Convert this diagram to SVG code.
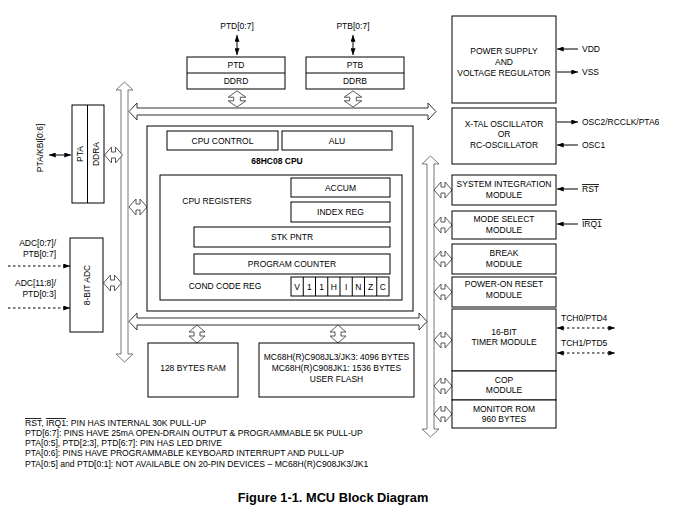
<svg xmlns="http://www.w3.org/2000/svg" width="676" height="517" viewBox="0 0 676 517">
<style>
.b{fill:#fff;stroke:#000;stroke-width:1}
.t{font-family:"Liberation Sans",Arial,sans-serif;font-size:8.5px;fill:#000;text-anchor:middle;dominant-baseline:central}
.tl{font-family:"Liberation Sans",Arial,sans-serif;font-size:8.5px;fill:#000;dominant-baseline:central}
.n{font-family:"Liberation Sans",Arial,sans-serif;font-size:8.6px;fill:#000}
.bold{font-weight:bold}
.bush{fill:#fff;stroke:#333;stroke-width:1}
.busv{fill:#fff;stroke:#777;stroke-width:1}
.ha{fill:#fff;stroke:#444;stroke-width:0.9}
.ln{stroke:#000;stroke-width:1;fill:none}
.dl{stroke:#000;stroke-width:1;fill:none;stroke-dasharray:2.5,2.5}
.ov{text-decoration:overline}
</style>
<defs>
<marker id="ah" viewBox="0 0 8 6" refX="8" refY="3" markerWidth="7" markerHeight="5" orient="auto-start-reverse" markerUnits="userSpaceOnUse">
<path d="M0,0 L8,3 L0,6 Z" fill="#000"/>
</marker>
<path id="dh" d="M-9,0 L-2,-8 L-2,-3 L2,-3 L2,-8 L9,0 L2,8 L2,3 L-2,3 L-2,8 Z"/>
</defs>

<g id="connectors">
<!-- buses -->
<polygon class="busv" points="124.5,82 133,90 128,90 128,354 133,354 124.5,362 116,354 121,354 121,90 116,90"/>
<polygon class="busv" points="430.5,156 439,164 434,164 434,429 439,429 430.5,437 422,429 427,429 427,164 422,164"/>
<polygon class="bush" points="129,111.5 137,103 137,108 428,108 428,103 436,111.5 428,120 428,115 137,115 137,120"/>
<polygon class="bush" points="129,321.5 137,313 137,318 419,318 419,313 427,321.5 419,330 419,325 137,325 137,330"/>
<!-- hollow bus connectors -->
<use href="#dh" class="ha" transform="translate(237,99) rotate(90) scale(0.9,1.1)"/>
<use href="#dh" class="ha" transform="translate(353,99) rotate(90) scale(0.9,1.1)"/>
<use href="#dh" class="ha" transform="translate(113.5,155)"/>
<use href="#dh" class="ha" transform="translate(138,207)"/>
<use href="#dh" class="ha" transform="translate(112.5,283)"/>
<use href="#dh" class="ha" transform="translate(197,334) rotate(90)"/>
<use href="#dh" class="ha" transform="translate(338,334) rotate(90)"/>
<use href="#dh" class="ha" transform="translate(443,190)"/>
<use href="#dh" class="ha" transform="translate(443,225)"/>
<use href="#dh" class="ha" transform="translate(443,259)"/>
<use href="#dh" class="ha" transform="translate(443,292)"/>
<use href="#dh" class="ha" transform="translate(443,340)"/>
<use href="#dh" class="ha" transform="translate(443,386)"/>
<use href="#dh" class="ha" transform="translate(443,414)"/>
<!-- pin arrows -->
<line class="ln" x1="237" y1="35" x2="237" y2="55" marker-start="url(#ah)" marker-end="url(#ah)"/>
<line class="ln" x1="353" y1="35" x2="353" y2="55" marker-start="url(#ah)" marker-end="url(#ah)"/>
<line class="ln" x1="49" y1="155" x2="71" y2="155" marker-start="url(#ah)" marker-end="url(#ah)"/>
<line class="dl" x1="8" y1="266" x2="70" y2="266" marker-end="url(#ah)"/>
<line class="dl" x1="8" y1="308" x2="70" y2="308" marker-end="url(#ah)"/>
<line class="ln" x1="578" y1="49" x2="557" y2="49" marker-end="url(#ah)"/>
<line class="ln" x1="557" y1="72" x2="578" y2="72" marker-end="url(#ah)"/>
<line class="ln" x1="557" y1="122" x2="578" y2="122" marker-end="url(#ah)"/>
<line class="ln" x1="578" y1="145" x2="557" y2="145" marker-end="url(#ah)"/>
<line class="ln" x1="578" y1="189" x2="557" y2="189" marker-end="url(#ah)"/>
<line class="ln" x1="578" y1="224" x2="557" y2="224" marker-end="url(#ah)"/>
<line class="dl" x1="557" y1="328" x2="615" y2="328" marker-start="url(#ah)" marker-end="url(#ah)"/>
<line class="dl" x1="557" y1="353" x2="615" y2="353" marker-start="url(#ah)" marker-end="url(#ah)"/>
</g>

<g id="ptd">
<rect class="b" x="187" y="57" width="98" height="32"/>
<line class="ln" x1="187" y1="73" x2="285" y2="73"/>
<text class="t" x="236" y="65">PTD</text>
<text class="t" x="236" y="81">DDRD</text>
<text class="t" x="237" y="26">PTD[0:7]</text>
</g>
<g id="ptb">
<rect class="b" x="306" y="57" width="98" height="32"/>
<line class="ln" x1="306" y1="73" x2="404" y2="73"/>
<text class="t" x="355" y="65">PTB</text>
<text class="t" x="355" y="81">DDRB</text>
<text class="t" x="353" y="26">PTB[0:7]</text>
</g>

<g id="pta">
<rect class="b" x="72" y="105" width="32" height="98"/>
<line class="ln" x1="87.5" y1="105" x2="87.5" y2="203"/>
<text class="t" transform="translate(80,154) rotate(-90)">PTA</text>
<text class="t" transform="translate(96,154) rotate(-90)">DDRA</text>
<text class="t" transform="translate(40,148) rotate(-90)">PTA/KBI[0:6]</text>
</g>

<g id="adc">
<rect class="b" x="70" y="238" width="33" height="94"/>
<text class="t" transform="translate(86.5,285) rotate(-90)">8-BIT ADC</text>
<text class="tl" x="56" y="243" style="text-anchor:end">ADC[0:7]/</text>
<text class="tl" x="56" y="254" style="text-anchor:end">PTB[0:7]</text>
<text class="tl" x="56" y="283" style="text-anchor:end">ADC[11:8]/</text>
<text class="tl" x="56" y="294" style="text-anchor:end">PTD[0:3]</text>
</g>

<g id="cpu">
<rect class="b" x="147" y="126" width="266" height="185"/>
<rect class="b" x="167" y="131" width="111" height="19"/>
<text class="t" x="222.5" y="140.5">CPU CONTROL</text>
<rect class="b" x="282" y="131" width="110" height="19"/>
<text class="t" x="337" y="140.5">ALU</text>
<text class="t bold" x="277" y="161">68HC08 CPU</text>
<rect class="b" x="160" y="175" width="242" height="125"/>
<text class="t" x="217" y="201">CPU REGISTERS</text>
<rect class="b" x="291" y="178" width="99" height="19"/>
<text class="t" x="340.5" y="187.5">ACCUM</text>
<rect class="b" x="291" y="202" width="99" height="20"/>
<text class="t" x="340.5" y="212">INDEX REG</text>
<rect class="b" x="194" y="227" width="196" height="20"/>
<text class="t" x="292" y="237">STK PNTR</text>
<rect class="b" x="194" y="254" width="196" height="20"/>
<text class="t" x="292" y="264">PROGRAM COUNTER</text>
<text class="t" x="225" y="285.5">COND CODE REG</text>
<rect class="b" x="291" y="277" width="98" height="19"/>
<g class="ln">
<line x1="303.25" y1="277" x2="303.25" y2="296"/>
<line x1="315.5" y1="277" x2="315.5" y2="296"/>
<line x1="327.75" y1="277" x2="327.75" y2="296"/>
<line x1="340" y1="277" x2="340" y2="296"/>
<line x1="352.25" y1="277" x2="352.25" y2="296"/>
<line x1="364.5" y1="277" x2="364.5" y2="296"/>
<line x1="376.75" y1="277" x2="376.75" y2="296"/>
</g>
<text class="t" x="297.1" y="286.5">V</text>
<text class="t" x="309.4" y="286.5">1</text>
<text class="t" x="321.6" y="286.5">1</text>
<text class="t" x="333.9" y="286.5">H</text>
<text class="t" x="346.1" y="286.5">I</text>
<text class="t" x="358.4" y="286.5">N</text>
<text class="t" x="370.6" y="286.5">Z</text>
<text class="t" x="382.9" y="286.5">C</text>
</g>

<g id="ram">
<rect class="b" x="148" y="343" width="90" height="54"/>
<text class="t" x="193" y="368">128 BYTES RAM</text>
</g>
<g id="flash">
<rect class="b" x="259" y="343" width="155" height="54"/>
<text class="t" x="336.5" y="357">MC68H(R)C908JL3/JK3: 4096 BYTES</text>
<text class="t" x="336.5" y="368">MC68H(R)C908JK1: 1536 BYTES</text>
<text class="t" x="336.5" y="379">USER FLASH</text>
</g>

<g id="power">
<rect class="b" x="452" y="16" width="104" height="87"/>
<text class="t" x="504" y="51">POWER SUPPLY</text>
<text class="t" x="504" y="62">AND</text>
<text class="t" x="504" y="73">VOLTAGE REGULATOR</text>
<text class="tl" x="582" y="49">VDD</text>
<text class="tl" x="582" y="72">VSS</text>
</g>
<g id="osc">
<rect class="b" x="452" y="108" width="104" height="56"/>
<text class="t" x="504" y="124">X-TAL OSCILLATOR</text>
<text class="t" x="504" y="134">OR</text>
<text class="t" x="504" y="145">RC-OSCILLATOR</text>
<text class="tl" x="582" y="122">OSC2/RCCLK/PTA6</text>
<text class="tl" x="582" y="145">OSC1</text>
</g>
<g id="sim">
<rect class="b" x="452" y="175" width="104" height="30"/>
<text class="t" x="504" y="184">SYSTEM INTEGRATION</text>
<text class="t" x="504" y="195">MODULE</text>
<text class="tl" x="582" y="189"><tspan class="ov">RST</tspan></text>
</g>
<g id="mode">
<rect class="b" x="452" y="211" width="104" height="28"/>
<text class="t" x="504" y="219">MODE SELECT</text>
<text class="t" x="504" y="230">MODULE</text>
<text class="tl" x="582" y="224"><tspan class="ov">IRQ1</tspan></text>
</g>
<g id="break">
<rect class="b" x="452" y="244" width="104" height="30"/>
<text class="t" x="504" y="253">BREAK</text>
<text class="t" x="504" y="264">MODULE</text>
</g>
<g id="por">
<rect class="b" x="452" y="277" width="104" height="30"/>
<text class="t" x="504" y="284">POWER-ON RESET</text>
<text class="t" x="504" y="295">MODULE</text>
</g>
<g id="timer">
<rect class="b" x="452" y="309" width="104" height="62"/>
<text class="t" x="504" y="332">16-BIT</text>
<text class="t" x="504" y="342">TIMER MODULE</text>
<text class="tl" x="561" y="318">TCH0/PTD4</text>
<text class="tl" x="561" y="343">TCH1/PTD5</text>
</g>
<g id="cop">
<rect class="b" x="452" y="371" width="104" height="29"/>
<text class="t" x="504" y="380">COP</text>
<text class="t" x="504" y="390">MODULE</text>
</g>
<g id="monrom">
<rect class="b" x="452" y="400" width="104" height="28"/>
<text class="t" x="504" y="409">MONITOR ROM</text>
<text class="t" x="504" y="419">960 BYTES</text>
</g>

<g id="notes">
<text class="n" x="25" y="426"><tspan class="ov">RST</tspan>, <tspan class="ov">IRQ1</tspan>: PIN HAS INTERNAL 30K PULL-UP</text>
<text class="n" x="25" y="436">PTD[6:7]: PINS HAVE 25mA OPEN-DRAIN OUTPUT &amp; PROGRAMMABLE 5K PULL-UP</text>
<text class="n" x="25" y="446">PTA[0:5], PTD[2:3], PTD[6:7]: PIN HAS LED DRIVE</text>
<text class="n" x="25" y="456">PTA[0:6]: PINS HAVE PROGRAMMABLE KEYBOARD INTERRUPT AND PULL-UP</text>
<text class="n" x="25" y="467">PTA[0:5] and PTD[0:1]: NOT AVAILABLE ON 20-PIN DEVICES – MC68H(R)C908JK3/JK1</text>
</g>
<text class="bold" x="333" y="502" style="font-family:'Liberation Sans',Arial,sans-serif;font-size:12.8px;text-anchor:middle">Figure 1-1. MCU Block Diagram</text>
</svg>
